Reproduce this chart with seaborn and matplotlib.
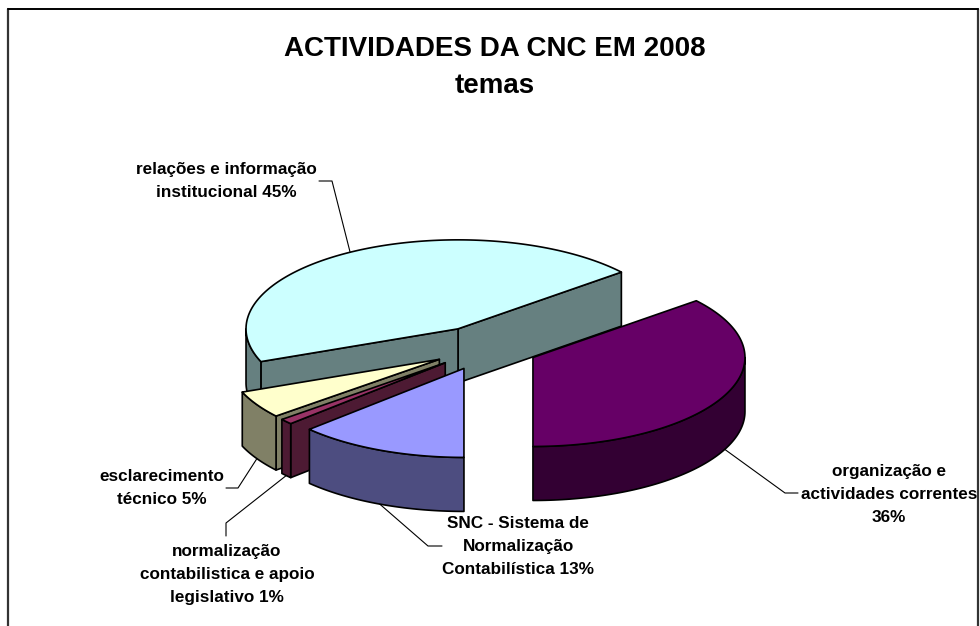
import numpy as np
import matplotlib
matplotlib.use("Agg")
import matplotlib.pyplot as plt
from matplotlib.patches import Polygon
import seaborn as sns

sns.set_theme(style="white")
plt.rcParams['font.family'] = ['Liberation Sans', 'DejaVu Sans']

# --- data -------------------------------------------------------------
categories = [["organização e", "actividades correntes", "36%"],
              ["relações e informação", "institucional 45%"],
              ["esclarecimento", "técnico 5%"],
              ["normalização", "contabilistica e apoio", "legislativo 1%"],
              ["SNC - Sistema de", "Normalização", "Contabilística 13%"]]
shares = [36, 45, 5, 1, 13]
top_colors = ["#660066", "#CCFFFF", "#FFFFCC", "#993366", "#9999FF"]
title_lines = ["ACTIVIDADES DA CNC EM 2008", "temas"]

# --- pie geometry (pixels of a 980x626 canvas) ------------------------
CX, CY = 485.0, 348.0
RX, RY = 212.0, 89.0
DEPTH = 54.0
EXPLODE = 0.25
START = -90.0
LW = 1.2

label_x = [889, 226.5, 161.5, 227, 518]
label_base = [476, 174, 481, 556, 528]
LINE_STEP = 22.8
elbows = [[(785, 493), (798, 493)],
          [(332, 181), (319, 181)],
          [(238, 488), (226, 488)],
          [(226, 523), (226, 536)],
          [(428, 546), (442, 546)]]

fig = plt.figure(figsize=(9.8, 6.26), dpi=100, facecolor="white")
ax = fig.add_axes([0, 0, 1, 1])
ax.set_xlim(0, 980)
ax.set_ylim(626, 0)
ax.axis("off")

# outer chart frame (open at the bottom: the picture is cropped there)
ax.plot([8, 8], [640, 8.5], color="#333333", lw=1.6, zorder=1)
ax.plot([978, 978], [640, 8.5], color="#333333", lw=1.6, zorder=1)
ax.plot([8, 978], [8.5, 8.5], color="black", lw=1.4, zorder=1)


def rim(center, deg, drop=0.0):
    t = np.radians(deg)
    return center[0] + RX * np.cos(t), center[1] - RY * np.sin(t) + drop


fractions = np.array(shares, dtype=float) / sum(shares)
edges = START + np.concatenate([[0], np.cumsum(fractions)]) * 360
slices = []
for i, (t0, t1) in enumerate(zip(edges[:-1], edges[1:])):
    mid = (t0 + t1) / 2
    off = np.radians(mid)
    center = (CX + EXPLODE * RX * np.cos(off), CY - EXPLODE * RY * np.sin(off))
    slices.append((i, t0, t1, mid, center))

# paint back to front
for i, t0, t1, mid, c in sorted(slices, key=lambda s: s[4][1]):
    z = 3 + c[1] / 1000
    top = matplotlib.colors.to_rgb(top_colors[i])
    side = tuple(v * 0.5 for v in top)
    style = dict(edgecolor="black", lw=LW, joinstyle="round", zorder=z)

    # flat walls facing the viewer
    if np.cos(np.radians(t0)) > 1e-6:
        r = rim(c, t0)
        ax.add_patch(Polygon([c, r, (r[0], r[1] + DEPTH), (c[0], c[1] + DEPTH)],
                             facecolor=side, **style))
    if np.cos(np.radians(t1)) < -1e-6:
        r = rim(c, t1)
        ax.add_patch(Polygon([c, r, (r[0], r[1] + DEPTH), (c[0], c[1] + DEPTH)],
                             facecolor=side, **style))

    # curved outer wall: only the part on the near half of the ellipse
    lo = max(t0, 180.0) if t0 >= 0 else t0
    hi = min(t1, 360.0)
    if t0 < 0:
        lo, hi = t0, min(t1, 0.0)
    if hi > lo:
        ts = np.linspace(lo, hi, 80)
        upper = [rim(c, t) for t in ts]
        lower = [rim(c, t, DEPTH) for t in ts[::-1]]
        ax.add_patch(Polygon(upper + lower, facecolor=side, **style))

    # top face
    ts = np.linspace(t0, t1, 160)
    ax.add_patch(Polygon([c] + [rim(c, t) for t in ts], facecolor=top, **style))

# labels and leader lines
for i, t0, t1, mid, c in slices:
    anchor = rim(c, mid, DEPTH if np.sin(np.radians(mid)) < 0 else 0.0)
    pts = [anchor] + elbows[i]
    ax.plot(*zip(*pts), color="black", lw=0.8, zorder=9)
    for k, line in enumerate(categories[i]):
        ax.text(label_x[i], label_base[i] + k * LINE_STEP, line, ha="center",
                va="baseline", fontsize=12.3, fontweight="bold", color="black",
                zorder=10)

for line, y in zip(title_lines, [56, 93]):
    ax.text(494.5, y, line, ha="center", va="baseline", fontsize=20,
            fontweight="bold", color="black", zorder=10)

fig.savefig("out.png", dpi=100, facecolor="white")
